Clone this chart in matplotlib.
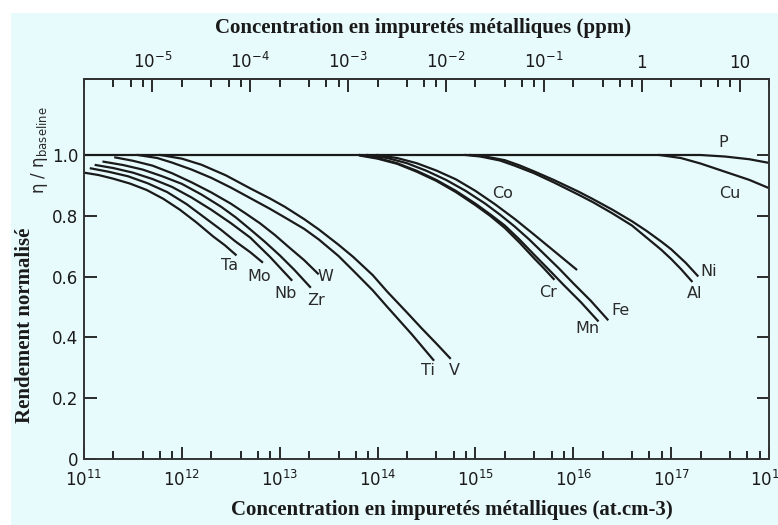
"""Normalised solar-cell efficiency vs. metallic impurity concentration."""

import numpy as np
import matplotlib.pyplot as plt
from matplotlib.patches import Rectangle
from matplotlib.ticker import LogLocator, NullFormatter, FixedLocator, FixedFormatter

# curves: log10 of concentration (at.cm-3) and eta / eta_baseline
ta_x = [11.0, 11.15, 11.3, 11.47, 11.64, 11.81, 11.98, 12.15, 12.32, 12.44, 12.55]
ta_y = [0.942, 0.934, 0.922, 0.906, 0.885, 0.856, 0.82, 0.778, 0.732, 0.703, 0.672]
mo_x = [11.07, 11.25, 11.45, 11.65, 11.85, 12.05, 12.25, 12.4, 12.55, 12.7, 12.82]
mo_y = [0.956, 0.945, 0.93, 0.907, 0.878, 0.838, 0.79, 0.754, 0.715, 0.68, 0.648]
nb_x = [11.12, 11.3, 11.5, 11.7, 11.9, 12.1, 12.3, 12.5, 12.7, 12.9, 13.12]
nb_y = [0.967, 0.957, 0.942, 0.921, 0.895, 0.86, 0.82, 0.776, 0.728, 0.665, 0.589]
zr_x = [11.2, 11.4, 11.6, 11.8, 12.0, 12.2, 12.4, 12.55, 12.7, 12.85, 13.0, 13.15, 13.31]
zr_y = [0.978, 0.967, 0.952, 0.93, 0.905, 0.87, 0.83, 0.795, 0.755, 0.714, 0.67, 0.622, 0.566]
w_x = [11.32, 11.5, 11.7, 11.9, 12.1, 12.3, 12.5, 12.65, 12.8, 12.95, 13.1, 13.25, 13.39]
w_y = [0.992, 0.981, 0.965, 0.94, 0.91, 0.877, 0.84, 0.808, 0.775, 0.737, 0.695, 0.654, 0.61]
ti_x = [11.55, 11.75, 11.9, 12.1, 12.3, 12.5, 12.7, 12.9, 13.05, 13.25, 13.4, 13.6, 13.75,
        13.95, 14.1, 14.35, 14.57]
ti_y = [1.0, 0.99, 0.975, 0.952, 0.925, 0.893, 0.858, 0.823, 0.795, 0.757, 0.722, 0.668, 0.62,
        0.555, 0.5, 0.41, 0.326]
v_x = [11.78, 12.0, 12.2, 12.45, 12.7, 12.9, 13.05, 13.25, 13.4, 13.6, 13.75, 13.95, 14.1,
       14.3, 14.45, 14.6, 14.74]
v_y = [1.0, 0.988, 0.968, 0.933, 0.89, 0.857, 0.83, 0.789, 0.755, 0.705, 0.665, 0.605, 0.55,
       0.482, 0.43, 0.38, 0.332]
co_x = [14.0, 14.2, 14.4, 14.6, 14.8, 15.0, 15.2, 15.4, 15.6, 15.8, 16.03]
co_y = [1.0, 0.99, 0.973, 0.949, 0.92, 0.882, 0.838, 0.79, 0.738, 0.685, 0.624]
fe_x = [13.9, 14.1, 14.3, 14.5, 14.7, 14.9, 15.1, 15.25, 15.4, 15.55, 15.7, 15.85, 16.0,
        16.18, 16.35]
fe_y = [1.0, 0.99, 0.973, 0.948, 0.918, 0.882, 0.84, 0.804, 0.765, 0.722, 0.675, 0.628, 0.578,
        0.52, 0.459]
mn_x = [13.82, 14.0, 14.2, 14.4, 14.6, 14.8, 15.0, 15.15, 15.3, 15.45, 15.6, 15.75, 15.9,
        16.08, 16.25]
mn_y = [1.0, 0.99, 0.973, 0.948, 0.918, 0.882, 0.84, 0.805, 0.768, 0.722, 0.672, 0.623, 0.573,
        0.515, 0.455]
cr_x = [13.82, 14.0, 14.2, 14.4, 14.6, 14.8, 15.0, 15.15, 15.3, 15.45, 15.6, 15.7, 15.8]
cr_y = [0.998, 0.988, 0.971, 0.945, 0.915, 0.878, 0.835, 0.8, 0.76, 0.712, 0.66, 0.627, 0.592]
ni_x = [14.95, 15.1, 15.3, 15.45, 15.6, 15.8, 16.05, 16.2, 16.4, 16.6, 16.75, 16.9, 17.0,
        17.15, 17.27]
ni_y = [1.0, 0.995, 0.983, 0.966, 0.946, 0.918, 0.88, 0.855, 0.82, 0.782, 0.75, 0.715, 0.69,
        0.645, 0.603]
al_x = [14.9, 15.05, 15.25, 15.4, 15.6, 15.8, 16.05, 16.2, 16.4, 16.6, 16.75, 16.9, 17.0,
        17.1, 17.21]
al_y = [1.0, 0.995, 0.982, 0.965, 0.94, 0.91, 0.87, 0.845, 0.808, 0.768, 0.728, 0.688, 0.658,
        0.625, 0.585]
cu_x = [16.88, 17.1, 17.3, 17.55, 17.8, 18.0]
cu_y = [1.0, 0.99, 0.972, 0.945, 0.918, 0.891]
p_x = [11.0, 17.3, 17.55, 17.8, 18.0]
p_y = [1.0, 1.0, 0.995, 0.986, 0.974]

curves = {
    'Ta': (ta_x, ta_y), 'Mo': (mo_x, mo_y), 'Nb': (nb_x, nb_y), 'Zr': (zr_x, zr_y),
    'W': (w_x, w_y), 'Ti': (ti_x, ti_y), 'V': (v_x, v_y), 'Co': (co_x, co_y),
    'Fe': (fe_x, fe_y), 'Mn': (mn_x, mn_y), 'Cr': (cr_x, cr_y), 'Ni': (ni_x, ni_y),
    'Al': (al_x, al_y), 'Cu': (cu_x, cu_y), 'P': (p_x, p_y),
}

# where each element name sits (log10 conc, eta)
label_pos = {
    'Ta': (12.49, 0.635), 'Mo': (12.79, 0.600), 'Nb': (13.06, 0.545), 'Zr': (13.37, 0.523),
    'W': (13.47, 0.600), 'Ti': (14.51, 0.292), 'V': (14.78, 0.292), 'Co': (15.28, 0.875),
    'Cr': (15.74, 0.548), 'Mn': (16.14, 0.430), 'Fe': (16.48, 0.490), 'Ni': (17.38, 0.616),
    'Al': (17.24, 0.546), 'P': (17.53, 1.040), 'Cu': (17.60, 0.875),
}

xticks = [1e11, 1e12, 1e13, 1e14, 1e15, 1e16, 1e17, 1e18]
yticks = [0, 0.2, 0.4, 0.6, 0.8, 1.0]
ytick_labels = ['0', '0.2', '0.4', '0.6', '0.8', '1.0']
ppm_ticks = [1e-5, 1e-4, 1e-3, 1e-2, 1e-1, 1, 10]
ppm_labels = ['$10^{-5}$', '$10^{-4}$', '$10^{-3}$', '$10^{-2}$', '$10^{-1}$', '1', '10']
SI_ATOMS = 5e22  # at.cm-3, for ppm conversion

bg = '#e8fbfc'
ink = '#1a1a1a'
label_font = dict(family='Liberation Serif', weight='bold', size=15, color=ink)

fig = plt.figure(figsize=(7.78, 5.25), dpi=100, facecolor='white')
fig.patches.append(Rectangle((11 / 778, 0), 1, 1 - 13 / 525, transform=fig.transFigure,
                             facecolor=bg, edgecolor='none', zorder=-10))
ax = fig.add_axes([84 / 778, 66 / 525, 685 / 778, 380 / 525])
ax.set_facecolor('none')

for name, (lx, ly) in curves.items():
    ax.plot(10 ** np.array(lx), ly, color=ink, lw=1.6, solid_joinstyle='round')
    tx, ty = label_pos[name]
    ax.text(10 ** tx, ty, name, ha='center', va='center', fontsize=11.5, color='#2a2a2a')

ax.set_xscale('log')
ax.set_xlim(1e11, 1e18)
ax.set_ylim(0, 1.25)
ax.set_yticks(yticks)
ax.set_yticklabels(ytick_labels)
ax.xaxis.set_major_locator(FixedLocator(xticks))
ax.xaxis.set_minor_locator(LogLocator(base=10, subs=(2, 4, 6, 8), numticks=20))
ax.xaxis.set_minor_formatter(NullFormatter())
ax.tick_params(axis='both', which='major', direction='in', length=9, width=1.3,
               labelsize=12, colors=ink, pad=4)
ax.tick_params(axis='x', which='major', pad=8)
ax.tick_params(axis='x', which='minor', direction='in', length=6, width=1.2, top=False)
ax.tick_params(axis='y', right=True)
for s in ax.spines.values():
    s.set_linewidth(1.4)
    s.set_color('#333333')

sec = ax.secondary_xaxis('top', functions=(lambda c: c / SI_ATOMS * 1e6,
                                            lambda p: p * SI_ATOMS / 1e6))
sec.xaxis.set_major_locator(FixedLocator(ppm_ticks))
sec.xaxis.set_major_formatter(FixedFormatter(ppm_labels))
sec.xaxis.set_minor_locator(LogLocator(base=10, subs=(2, 4, 6, 8), numticks=20))
sec.xaxis.set_minor_formatter(NullFormatter())
sec.tick_params(which='major', direction='in', length=9, width=1.3, labelsize=12,
                colors=ink, pad=5)
sec.tick_params(which='minor', direction='in', length=6, width=1.2)
sec.spines['top'].set_linewidth(1.4)

fig.text(423 / 778, 1 - 28 / 525, 'Concentration en impuretés métalliques (ppm)',
         ha='center', va='center', **label_font)
fig.text(452 / 778, 1 - 510 / 525, 'Concentration en impuretés métalliques (at.cm-3)',
         ha='center', va='center', **label_font)
fig.text(25 / 778, 1 - 325 / 525, 'Rendement normalisé', rotation=90,
         ha='center', va='center', **label_font)
fig.text(40 / 778, 1 - 150 / 525, r'η / η$_{\mathrm{baseline}}$', rotation=90,
         ha='center', va='center', fontsize=12, color='#2a2a2a')

fig.savefig('out.png', dpi=100, facecolor=fig.get_facecolor())
